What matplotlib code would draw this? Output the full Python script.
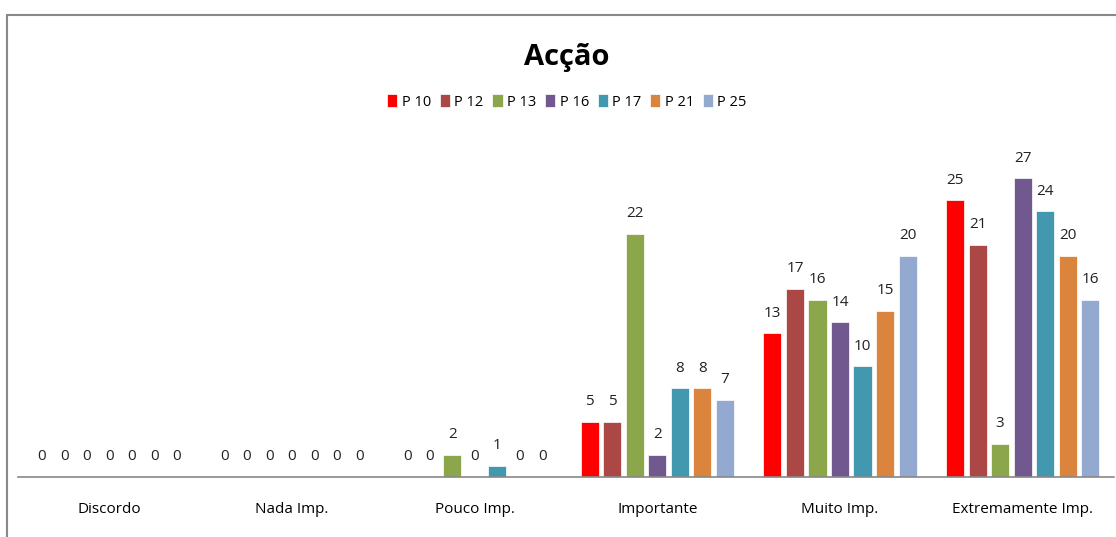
import numpy as np
import matplotlib
matplotlib.use('Agg')
import matplotlib.pyplot as plt
from matplotlib.patches import Rectangle

plt.rcParams['font.family'] = ['Open Sans', 'DejaVu Sans']

categories = ['Discordo', 'Nada Imp.', 'Pouco Imp.', 'Importante', 'Muito Imp.', 'Extremamente Imp.']
series_names = ['P 10', 'P 12', 'P 13', 'P 16', 'P 17', 'P 21', 'P 25']
p10 = [0, 0, 0, 5, 13, 25]
p12 = [0, 0, 0, 5, 17, 21]
p13 = [0, 0, 2, 22, 16, 3]
p16 = [0, 0, 0, 2, 14, 27]
p17 = [0, 0, 1, 8, 10, 24]
p21 = [0, 0, 0, 8, 15, 20]
p25 = [0, 0, 0, 7, 20, 16]
series = [p10, p12, p13, p16, p17, p21, p25]
colors = ['#ff0000', '#ab4744', '#8ba64b', '#71588f', '#4198af', '#db843d', '#93a9cf']

fig = plt.figure(figsize=(11.16, 5.37), dpi=100)
ax = fig.add_axes([18 / 1116, 60 / 537, 1096 / 1116, 332 / 537])

x = np.arange(len(categories))
step = 0.1233
width = 0.099
for i, (name, vals) in enumerate(zip(series_names, series)):
    pos = x + (i - 3) * step
    bars = ax.bar(pos, vals, width=width, color=colors[i], label=name,
                  edgecolor='white', linewidth=0.5)
    for b, v in zip(bars, vals):
        ax.annotate(str(v), (b.get_x() + b.get_width() / 2, v),
                    xytext=(0, 9), textcoords='offset points',
                    ha='center', va='bottom', fontsize=11, color='#222222')

ax.set_xlim(-0.5, len(categories) - 0.5)
ax.set_ylim(0, 30)
ax.set_yticks([])
ax.set_xticks(x)
ax.set_xticklabels(categories, fontsize=11)
ax.tick_params(axis='x', length=0, pad=18)
for s in ['top', 'right', 'left']:
    ax.spines[s].set_visible(False)
ax.spines['bottom'].set_color('#888888')
ax.spines['bottom'].set_linewidth(1.2)

fig.text(0.508, 1 - 57 / 537, 'Acção', ha='center', va='center',
         fontsize=21, fontweight='bold')
fig.legend(loc='center', bbox_to_anchor=(0.508, 1 - 102 / 537), ncol=7,
           frameon=False, fontsize=10.5, handlelength=0.7, handleheight=0.9,
           handletextpad=0.3, columnspacing=0.6)

# chart frame (cut off at right and bottom edges)
fig.patches.append(Rectangle((7 / 1116, -0.1), 1.2, 1.1 - 15 / 537,
                             transform=fig.transFigure, fill=False,
                             edgecolor='#888888', linewidth=1.5))

fig.savefig('out.png', dpi=100)
